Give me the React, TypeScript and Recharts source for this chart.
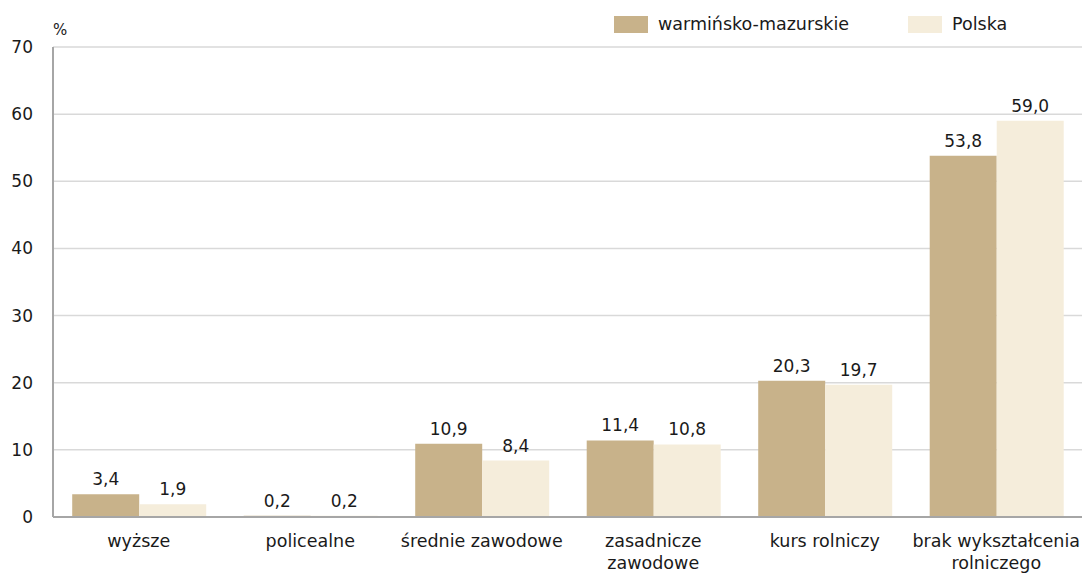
import { BarChart, Bar, XAxis, YAxis, CartesianGrid, Legend, LabelList } from 'recharts';

const categories = ['wyższe', 'policealne', 'średnie zawodowe', 'zasadnicze\nzawodowe', 'kurs rolniczy', 'brak wykształcenia\nrolniczego'];
const warminskoMazurskie = [3.4, 0.2, 10.9, 11.4, 20.3, 53.8];
const polska = [1.9, 0.2, 8.4, 10.8, 19.7, 59.0];
const yTicks = [0, 10, 20, 30, 40, 50, 60, 70];

const SERIES = [
    { key: 'wm', name: 'warmińsko-mazurskie', color: '#c8b28a' },
    { key: 'pl', name: 'Polska', color: '#f5eddb' },
];

const FONT = '"DejaVu Sans", sans-serif';

const data = categories.map((name, i) => ({
    name,
    wm: warminskoMazurskie[i],
    pl: polska[i],
}));

const fmt = (v: any) => Number(v).toFixed(1).replace('.', ',');

// category labels, split on \n into lines
const CategoryTick = ({ x, y, payload }: any) => {
    const lines = String(payload.value).split('\n');
    return (
        <text x={x} y={y} textAnchor="middle" fill="#1a1a1a" fontSize={17.5} fontFamily={FONT}>
            {lines.map((line, i) => (
                <tspan key={i} x={x} dy={i === 0 ? 28 : 22}>{line}</tspan>
            ))}
        </text>
    );
};

const LegendContent = () => (
    <div style={{ display: 'flex', alignItems: 'center', fontFamily: FONT, fontSize: 17.5, color: '#1a1a1a' }}>
        {SERIES.map((s, i) => (
            <div key={s.key} style={{ display: 'flex', alignItems: 'center', marginRight: i === 0 ? 59 : 0 }}>
                <div style={{ width: 34, height: 17, background: s.color, marginRight: 10 }} />
                <span>{s.name}</span>
            </div>
        ))}
    </div>
);

export default function App() {
    return (
        <div style={{ position: 'absolute', left: 0, top: 0, width: 1083, height: 573, background: '#fff' }}>
            <BarChart
                width={1083}
                height={573}
                data={data}
                margin={{ top: 47, right: 1, left: 0, bottom: 6 }}
                barCategoryGap="11.2%"
                barGap={0}
            >
                <CartesianGrid vertical={false} stroke="#d9d9d9" strokeWidth={1.5} />
                <XAxis
                    dataKey="name"
                    height={50}
                    interval={0}
                    tickLine={false}
                    tickSize={0}
                    axisLine={{ stroke: '#a6a6a6', strokeWidth: 2 }}
                    tick={<CategoryTick />}
                />
                <YAxis
                    width={53}
                    domain={[0, 70]}
                    ticks={yTicks}
                    interval={0}
                    tickLine={false}
                    tickSize={0}
                    tickMargin={20}
                    axisLine={{ stroke: '#a6a6a6', strokeWidth: 2 }}
                    tick={{ fill: '#1a1a1a', fontSize: 17, fontFamily: FONT }}
                    label={{
                        content: (props: any) => {
                            const vb = props.viewBox;
                            return (
                                <text x={vb.x + vb.width} y={vb.y - 12} fill="#1a1a1a" fontSize={15} fontFamily={FONT}>%</text>
                            );
                        },
                    }}
                />
                <Legend
                    layout="horizontal"
                    align="center"
                    verticalAlign="middle"
                    content={<LegendContent />}
                    wrapperStyle={{ top: 14, left: 614, width: 'auto' }}
                />
                {SERIES.map((s) => (
                    <Bar key={s.key} dataKey={s.key} name={s.name} fill={s.color} isAnimationActive={false}>
                        <LabelList
                            dataKey={s.key}
                            position="top"
                            offset={9}
                            formatter={fmt}
                            fill="#1a1a1a"
                            fontSize={17}
                            fontFamily={FONT}
                        />
                    </Bar>
                ))}
            </BarChart>
        </div>
    );
}
